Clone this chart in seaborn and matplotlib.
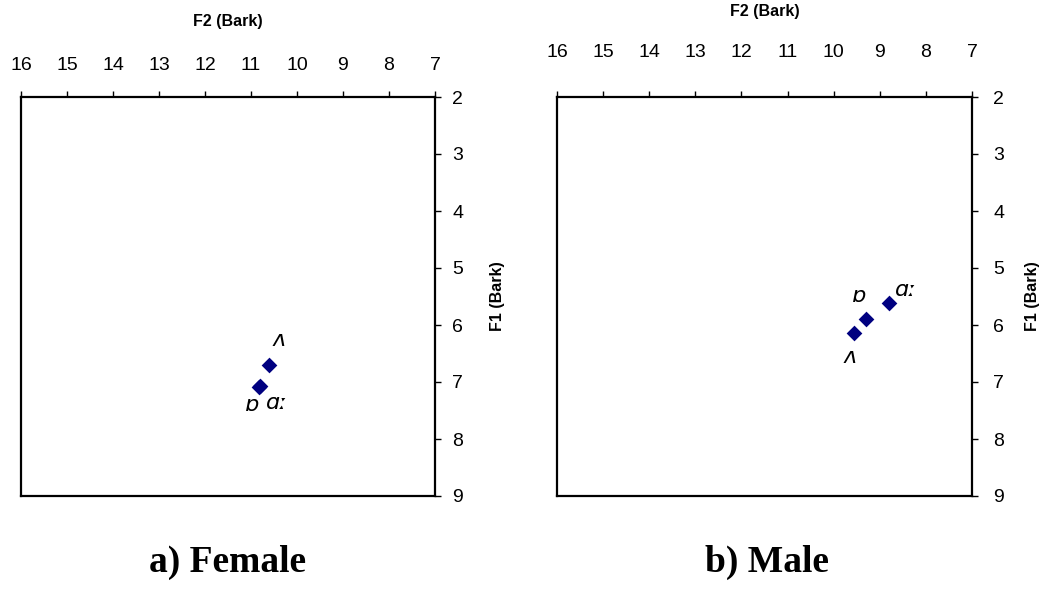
import matplotlib
matplotlib.use('Agg')
import matplotlib.pyplot as plt
import seaborn as sns
import pandas as pd

# ---- data ----
vowels = ['ʌ', 'ɒ', 'ɑː']
female_F2 = [10.61, 10.83, 10.81]
female_F1 = [6.71, 7.08, 7.07]
male_F2 = [9.55, 9.30, 8.81]
male_F1 = [6.14, 5.90, 5.61]
x_ticks = [16, 15, 14, 13, 12, 11, 10, 9, 8, 7]
y_ticks = [2, 3, 4, 5, 6, 7, 8, 9]
panel_titles = ['a) Female', 'b) Male']
x_label = 'F2 (Bark)'
y_label = 'F1 (Bark)'

sns.set_theme(style='white')
plt.rcParams['font.family'] = ['Liberation Sans', 'DejaVu Sans']

fig = plt.figure(figsize=(10.53, 6.05), dpi=100)
W, H = 1053, 605


def px_axes(l, t, r, b):
    return [l / W, (H - b) / H, (r - l) / W, (b - t) / H]


panels = [
    dict(rect=px_axes(21, 97, 435, 496), F2=female_F2, F1=female_F1,
         xpad=12, ypad=8, xlab_y=1.188, ylab_x=1.150, title_x=228,
         offsets={'ʌ': (7, 18), 'ɒ': (-4, -13), 'ɑː': (12, -12)}),
    dict(rect=px_axes(557, 97, 972, 496), F2=male_F2, F1=male_F1,
         xpad=21.5, ypad=11, xlab_y=1.215, ylab_x=1.145, title_x=767,
         offsets={'ʌ': (-3, -17), 'ɒ': (-4, 17), 'ɑː': (12, 9)}),
]

navy = '#000080'
for p, title in zip(panels, panel_titles):
    ax = fig.add_axes(p['rect'])
    df = pd.DataFrame({'F2': p['F2'], 'F1': p['F1'], 'vowel': vowels})
    sns.scatterplot(data=df, x='F2', y='F1', marker='D', s=64, color=navy,
                    edgecolor=navy, linewidth=0, ax=ax, zorder=3)
    ax.set_xlim(16, 7)
    ax.set_ylim(9, 2)
    ax.xaxis.tick_top()
    ax.yaxis.tick_right()
    ax.set_xticks(x_ticks)
    ax.set_yticks(y_ticks)
    ax.set_xticklabels([str(v) for v in x_ticks])
    ax.set_yticklabels([str(v) for v in y_ticks])
    ax.tick_params(axis='x', direction='out', length=4.3, width=1,
                   color='black', labelsize=14, pad=p['xpad'],
                   top=True, bottom=False, labelcolor='black')
    ax.tick_params(axis='y', direction='out', length=4.3, width=1,
                   color='black', labelsize=14, pad=p['ypad'],
                   right=True, left=False, labelcolor='black')
    for sp in ax.spines.values():
        sp.set_visible(True)
        sp.set_color('black')
        sp.set_linewidth(1.6)
    ax.grid(False)
    ax.set_facecolor('white')

    ax.xaxis.set_label_position('top')
    ax.set_xlabel(x_label, fontsize=11.5, fontweight='bold', color='black')
    ax.xaxis.set_label_coords(0.5, p['xlab_y'])
    ax.xaxis.label.set_va('center')
    ax.yaxis.set_label_position('right')
    ax.set_ylabel(y_label, fontsize=11.5, fontweight='bold', color='black',
                  rotation=90)
    ax.yaxis.set_label_coords(p['ylab_x'], 0.5)
    ax.yaxis.label.set_va('center')
    ax.yaxis.label.set_ha('center')

    for _, row in df.iterrows():
        ax.annotate(row['vowel'], (row['F2'], row['F1']),
                    xytext=p['offsets'][row['vowel']], textcoords='offset points',
                    ha='center', va='center', fontsize=16, style='italic',
                    color='black', family=['DejaVu Sans'])

    fig.text(p['title_x'] / W, 1 - 562 / H, title, ha='center', va='center',
             fontsize=27, fontweight='bold', family='Liberation Serif',
             color='black')

fig.savefig('out.png', dpi=100, facecolor='white')
